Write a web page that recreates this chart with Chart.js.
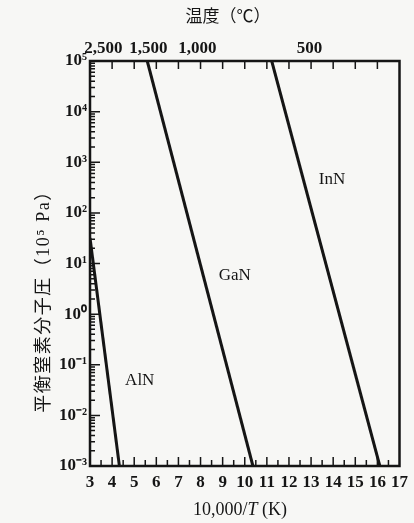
<!DOCTYPE html>
<html>
<head>
<meta charset="utf-8">
<script src="https://cdn.jsdelivr.net/npm/chart.js@4.4.1/dist/chart.umd.min.js"></script>
<style>
  body { margin: 0; background: #f7f7f5; }
  #wrap { width: 414px; height: 523px; }
</style>
</head>
<body>
<div id="wrap"><canvas id="chart" width="414" height="523"></canvas></div>
<script>
// reading of the picture: 10000/T on x, pressure (x10^5 Pa) on y
const alnX = [3.0, 4.33];
const alnP = [32, 0.001];
const ganX = [5.59, 10.37];
const ganP = [100000, 0.001];
const innX = [11.22, 16.11];
const innP = [100000, 0.001];

const tempsC = [2500, 1500, 1000, 500];       // top axis labels
const decades = [-3, -2, -1, 0, 1, 2, 3, 4, 5]; // y tick labels as powers of ten

const SERIF = '"Liberation Serif", "Noto Sans CJK JP", serif';
const INK = '#151515';

const sup = n => String(n).split('').map(c => ({'-':'⁻','0':'⁰','1':'¹','2':'²','3':'³','4':'⁴','5':'⁵','6':'⁶','7':'⁷','8':'⁸','9':'⁹'})[c]).join('');
const pts = (xs, ys) => xs.map((x, i) => ({ x: x, y: ys[i] }));

const lineStyle = { showLine: true, borderColor: INK, borderWidth: 3, pointRadius: 0, fill: false };

// frame, inward ticks, curve names and axis titles
const decor = {
    id: 'decor',
    afterDraw(chart) {
        const { ctx, chartArea: a, scales } = chart;
        const x = scales.x, y = scales.y;
        ctx.save();
        ctx.strokeStyle = INK;
        ctx.lineWidth = 2.5;
        ctx.strokeRect(a.left, a.top, a.right - a.left, a.bottom - a.top);

        ctx.lineWidth = 1.5;
        ctx.beginPath();
        for (let v = 3.5; v < 17; v += 0.5) {
            const px = x.getPixelForValue(v);
            const len = Number.isInteger(v) ? 9 : 6;
            ctx.moveTo(px, a.bottom); ctx.lineTo(px, a.bottom - len);
        }
        for (let v = 4; v < 17; v++) {
            const px = x.getPixelForValue(v);
            ctx.moveTo(px, a.top); ctx.lineTo(px, a.top + 8);
        }
        for (let e = -3; e <= 5; e++) {
            for (let m = 1; m <= 9; m++) {
                const val = m * Math.pow(10, e);
                if (val > 1e5) break;
                const py = y.getPixelForValue(val);
                const len = m === 1 ? 10 : 5;
                ctx.moveTo(a.left, py); ctx.lineTo(a.left + len, py);
            }
        }
        ctx.stroke();

        ctx.fillStyle = INK;
        ctx.font = '17px ' + SERIF;
        ctx.textAlign = 'center';
        ctx.textBaseline = 'middle';
        ctx.fillText('InN', x.getPixelForValue(13.95), y.getPixelForValue(Math.pow(10, 2.65)));
        ctx.fillText('GaN', x.getPixelForValue(9.55), y.getPixelForValue(Math.pow(10, 0.77)));
        ctx.fillText('AlN', x.getPixelForValue(5.25), y.getPixelForValue(Math.pow(10, -1.32)));

        // titles
        ctx.font = '17px ' + SERIF;
        ctx.fillText('温度（℃）', 228, 18);

        const parts = [['10,000/', '18px ' + SERIF], ['T', 'italic 18px ' + SERIF], [' (K)', '18px ' + SERIF]];
        let total = 0;
        parts.forEach(p => { ctx.font = p[1]; total += ctx.measureText(p[0]).width; });
        let cx = 240 - total / 2;
        ctx.textAlign = 'left';
        parts.forEach(p => { ctx.font = p[1]; ctx.fillText(p[0], cx, 510); cx += ctx.measureText(p[0]).width; });

        ctx.translate(44, 297);
        ctx.rotate(-Math.PI / 2);
        ctx.textAlign = 'center';
        ctx.font = '18px ' + SERIF;
        ctx.letterSpacing = '1.5px';
        ctx.fillText('平衡窒素分子圧（10' + sup(5) + ' Pa）', 0, 0);
        ctx.restore();
    }
};

const tickFont = { family: SERIF, size: 17, weight: 'bold' };

new Chart(document.getElementById('chart'), {
    type: 'scatter',
    data: {
        datasets: [
            { label: 'AlN', data: pts(alnX, alnP), ...lineStyle },
            { label: 'GaN', data: pts(ganX, ganP), ...lineStyle },
            { label: 'InN', data: pts(innX, innP), ...lineStyle },
        ]
    },
    options: {
        responsive: false,
        animation: false,
        layout: { padding: { left: 0, right: 9, top: 0, bottom: 0 } },
        plugins: { legend: { display: false }, tooltip: { enabled: false } },
        scales: {
            x: {
                type: 'linear', position: 'bottom', min: 3, max: 17,
                grid: { display: false, drawTicks: false }, border: { display: false },
                ticks: { stepSize: 1, autoSkip: false, maxRotation: 0, padding: 6, color: INK, font: tickFont },
                afterFit: s => { s.height = 57; }
            },
            x2: {
                type: 'linear', position: 'top', min: 3, max: 17,
                grid: { display: false, drawTicks: false }, border: { display: false },
                afterBuildTicks: s => { s.ticks = tempsC.map(c => ({ value: 10000 / (c + 273.15) })); },
                ticks: { autoSkip: false, maxRotation: 0, padding: 2, color: INK, font: tickFont,
                         callback: (v, i) => tempsC[i].toLocaleString('en-US') },
                afterFit: s => { s.height = 61; }
            },
            y: {
                type: 'logarithmic', position: 'left', min: 0.001, max: 100000,
                grid: { display: false, drawTicks: false }, border: { display: false },
                afterBuildTicks: s => { s.ticks = decades.map(e => ({ value: Math.pow(10, e) })); },
                ticks: { autoSkip: false, padding: 3, color: INK, font: tickFont,
                         callback: v => '10' + sup(Math.round(Math.log10(v))) },
                afterFit: s => { s.width = 90; }
            }
        }
    },
    plugins: [decor]
});
</script>
</body>
</html>
